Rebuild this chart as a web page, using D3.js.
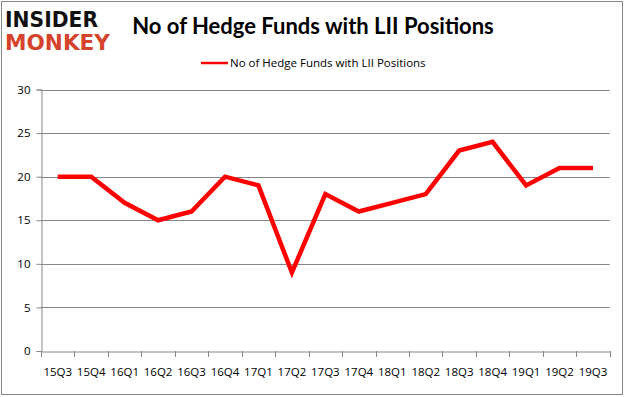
<!DOCTYPE html>
<html><head><meta charset="utf-8">
<script src="https://cdn.jsdelivr.net/npm/d3@7"></script>
<style>body{margin:0;background:#fff}svg{display:block}</style>
</head><body>
<script>
const categories = ["15Q3","15Q4","16Q1","16Q2","16Q3","16Q4","17Q1","17Q2","17Q3","17Q4","18Q1","18Q2","18Q3","18Q4","19Q1","19Q2","19Q3"];
const values = [20,20,17,15,16,20,19,9,18,16,17,18,23,24,19,21,21];
const yTicks = [0,5,10,15,20,25,30];
const title = "No of Hedge Funds with LII Positions";
const seriesName = "No of Hedge Funds with LII Positions";

(function(){
const W = 626, H = 397;
const font = "'Open Sans', 'Liberation Sans', sans-serif";
const svg = d3.select("body").append("svg").attr("width", W).attr("height", H);

svg.append("rect").attr("x",1.5).attr("y",1.5).attr("width",621).attr("height",393)
  .attr("fill","#fff").attr("stroke","#888").attr("stroke-width",1);

const pLeft = 41, pRight = 609.7, pTop = 89.5, pBottom = 351;
const x = d3.scaleBand().domain(categories).range([pLeft, pRight]);
const y = d3.scaleLinear().domain([0,30]).range([pBottom, pTop]);

svg.append("g").selectAll("line").data(yTicks.filter(d=>d>0)).join("line")
  .attr("x1",pLeft).attr("x2",pRight).attr("y1",d=>Math.round(y(d))+0.5).attr("y2",d=>Math.round(y(d))+0.5)
  .attr("stroke","#868686").attr("stroke-width",1);

const yAxis = svg.append("g").attr("transform",`translate(${pLeft+0.5},0)`)
  .call(d3.axisLeft(y).tickValues(yTicks).tickSize(5).tickPadding(6));
yAxis.select(".domain").attr("stroke","#868686");
yAxis.selectAll(".tick line").attr("stroke","#868686");
yAxis.selectAll("text").attr("font-family",font).attr("font-size",11.5).attr("fill","#000");

const xAxis = svg.append("g").attr("transform",`translate(0,${Math.round(pBottom)+0.5})`)
  .call(d3.axisBottom(x).tickSize(0).tickPadding(16));
xAxis.select(".domain").attr("stroke","#868686");
xAxis.selectAll("text").attr("font-family",font).attr("font-size",11.5).attr("fill","#000");
const boundaries = categories.map(c=>x(c)).concat([pRight]);
svg.append("g").selectAll("line").data(boundaries).join("line")
  .attr("x1",d=>Math.round(d)+0.5).attr("x2",d=>Math.round(d)+0.5)
  .attr("y1",Math.round(pBottom)).attr("y2",Math.round(pBottom)+6)
  .attr("stroke","#868686");

const line = d3.line().x((d,i)=>x(categories[i])+x.bandwidth()/2).y(d=>y(d));
svg.append("path").datum(values).attr("d",line).attr("fill","none")
  .attr("stroke","#ff0000").attr("stroke-width",4.5).attr("stroke-linejoin","miter");

svg.append("text").attr("x",313).attr("y",34).attr("text-anchor","middle")
  .attr("font-family","Lato, 'Open Sans', sans-serif").attr("font-weight","bold").attr("font-size",22)
  .text(title);

svg.append("line").attr("x1",201).attr("x2",228).attr("y1",63).attr("y2",63)
  .attr("stroke","#ff0000").attr("stroke-width",2.5);
svg.append("text").attr("x",230).attr("y",67).attr("font-family",font).attr("font-size",11.5)
  .text(seriesName);

svg.append("text").attr("x",5).attr("y",27).attr("font-family","'DejaVu Sans', sans-serif")
  .attr("font-weight","bold").attr("font-size",22).attr("textLength",93).attr("lengthAdjust","spacingAndGlyphs")
  .attr("fill","#111").text("INSIDER");
svg.append("text").attr("x",5).attr("y",50).attr("font-family","'DejaVu Sans', sans-serif")
  .attr("font-weight","bold").attr("font-size",22).attr("textLength",105).attr("lengthAdjust","spacingAndGlyphs")
  .attr("fill","#d5432d").text("MONKEY");
})();
</script>
</body></html>
